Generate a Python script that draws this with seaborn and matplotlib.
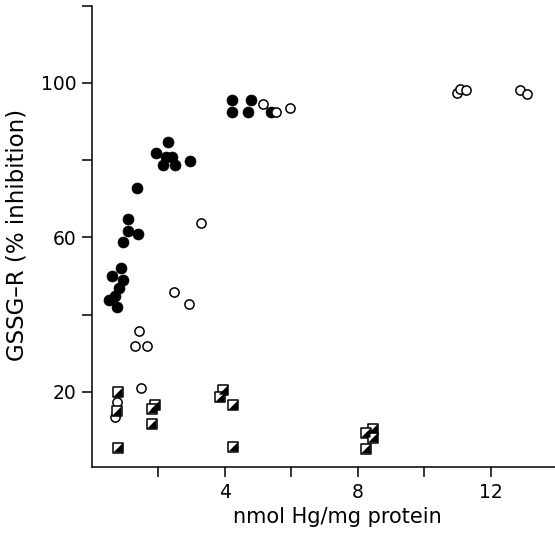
import matplotlib
matplotlib.use("Agg")
import matplotlib.pyplot as plt
import seaborn as sns
import numpy as np

# ---- data ----
filled_x = [4.20, 4.78, 4.20, 4.68, 5.38,
            2.30, 1.93, 2.23, 2.41, 2.14, 2.49, 2.95,
            1.36, 1.07, 1.09, 1.38, 0.92,
            0.87, 0.61, 0.94, 0.81, 0.70, 0.52, 0.74]
filled_y = [95.6, 95.6, 92.6, 92.6, 92.6,
            84.8, 81.9, 80.9, 80.9, 78.8, 78.8, 79.9,
            72.8, 64.8, 61.8, 60.8, 58.8,
            52.1, 50.0, 48.9, 47.0, 44.8, 43.9, 41.9]

open_x = [5.15, 5.54, 5.95,
          10.97, 11.07, 11.25, 12.88, 13.08,
          3.29, 2.48, 2.91,
          1.42, 1.29, 1.65, 1.47, 0.76, 0.69]
open_y = [94.6, 92.6, 93.6,
          97.3, 98.4, 98.2, 98.2, 97.1,
          63.8, 45.9, 42.9,
          35.9, 32.0, 32.0, 20.9, 17.3, 13.4]

square_x = [0.78, 0.74, 1.90, 1.81, 1.80, 0.79,
            3.95, 3.85, 4.25, 4.25,
            8.46, 8.24, 8.46, 8.24]
square_y = [19.9, 15.0, 16.6, 15.7, 11.7, 5.6,
            20.5, 18.6, 16.6, 5.8,
            10.5, 9.4, 8.2, 5.3]

x_ticks = [2, 4, 6, 8, 10, 12]
x_ticklabels = ["", "4", "", "8", "", "12"]
y_ticks = [20, 40, 60, 80, 100, 120]
y_ticklabels = ["20", "", "60", "", "100", ""]

# ---- style ----
sns.set_style("ticks")
plt.rcParams["font.family"] = ["DejaVu Sans"]
plt.rcParams["text.color"] = "black"
plt.rcParams["axes.labelcolor"] = "black"
plt.rcParams["xtick.color"] = "black"
plt.rcParams["ytick.color"] = "black"

fig = plt.figure(figsize=(5.55, 5.36), dpi=100)
ax = fig.add_axes([0.1658, 0.1282, 0.8342, 0.8611])

sns.scatterplot(x=filled_x, y=filled_y, ax=ax, marker="o", s=62,
                color="black", edgecolor="black", linewidth=0.5, zorder=3)
sns.scatterplot(x=open_x, y=open_y, ax=ax, marker="o", s=44,
                facecolor="white", edgecolor="black", linewidth=1.1, zorder=3)
# half-filled squares: white square with black outline + black lower-right triangle
sns.scatterplot(x=square_x, y=square_y, ax=ax, marker="s", s=44,
                facecolor="white", edgecolor="black", linewidth=1.1, zorder=3)
tri = [(-1, -1), (1, -1), (1, 1), (-1, -1)]
sns.scatterplot(x=square_x, y=square_y, ax=ax, marker=tri, s=44,
                color="black", edgecolor="none", linewidth=0, zorder=4)

ax.set_xlim(0, 13.93)
ax.set_ylim(0.5, 120)
ax.set_xticks(x_ticks)
ax.set_xticklabels(x_ticklabels)
ax.set_yticks(y_ticks)
ax.set_yticklabels(y_ticklabels)

for side in ["top", "right"]:
    ax.spines[side].set_visible(False)
for side in ["left", "bottom"]:
    ax.spines[side].set_linewidth(1.1)
    ax.spines[side].set_color("black")

ax.tick_params(axis="both", direction="out", length=7, width=1.1,
               labelsize=13.5, colors="black", pad=4)

ax.set_xlabel("nmol Hg/mg protein", fontsize=15)
ax.set_ylabel("GSSG\u2013R (% inhibition)", fontsize=16.5)
ax.xaxis.set_label_coords(0.529, -0.085)
ax.yaxis.set_label_coords(-0.138, 0.503)

fig.savefig("out.png", dpi=100, facecolor="white")
